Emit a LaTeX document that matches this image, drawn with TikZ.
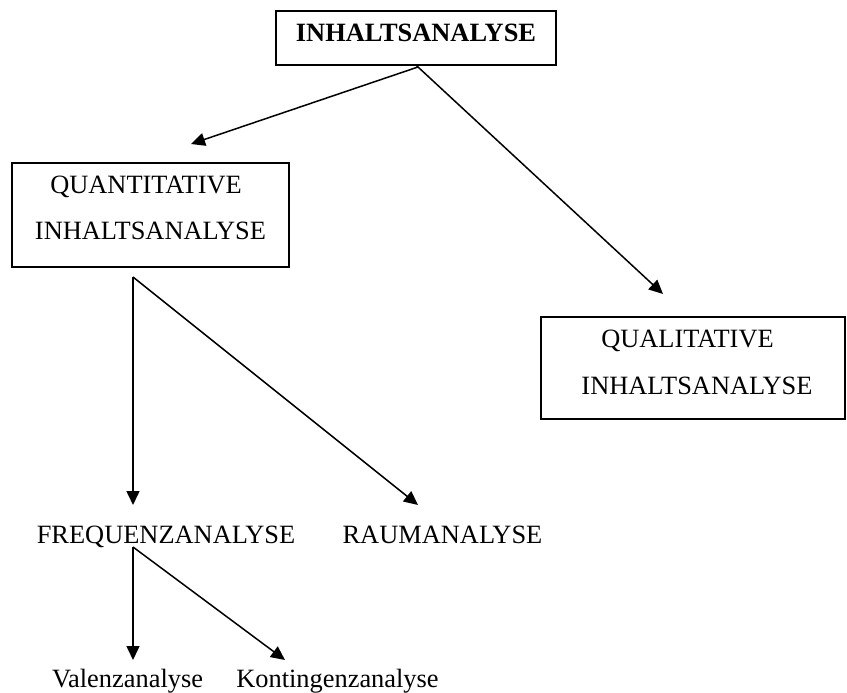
\documentclass[tikz,border=0pt]{standalone}
\usepackage{fontspec}
\setmainfont{Liberation Serif}
\usetikzlibrary{arrows.meta,calc}

\tikzset{
  box/.style={draw, line width=2.3pt, inner sep=0pt, outer sep=0pt, anchor=base},
  lbl/.style={inner sep=0pt, outer sep=0pt, anchor=base},
  arr/.style={line width=1.5pt, -{Triangle[length=14pt,width=13pt]}},
  ln/.style={line width=1.5pt}
}
\newcommand{\bigtext}{\fontsize{26.4}{47}\selectfont}
\newcommand{\twolines}[2]{\begin{tabular}[t]{@{}c@{}}#1\\#2\end{tabular}}

\begin{document}
\begin{tikzpicture}[x=1pt, y=-1pt, font=\bigtext]
  \useasboundingbox (0,0) rectangle (847,693);

  % boxes
  \node[box, minimum width=280pt, text height=31pt, text depth=23pt]
    (top) at (416,42) {\textbf{INHALTSANALYSE}};
  \node[box, minimum width=277pt, text height=30pt, text depth=74pt]
    (quant) at (150.5,193) {\twolines{QUANTITATIVE\hspace*{9pt}}{INHALTSANALYSE}};
  \node[box, minimum width=304pt, text height=30pt, text depth=72pt]
    (qual) at (693,347) {\twolines{QUALITATIVE\hspace*{11pt}}{\hspace*{8pt}INHALTSANALYSE}};

  % plain labels
  \node[lbl] (freq) at (166,543) {FREQUENZANALYSE};
  \node[lbl] (raum) at (442.5,543) {RAUMANALYSE};
  \node[lbl] (val)  at (127.5,687) {Valenzanalyse};
  \node[lbl] (kont) at (337.5,687) {Kontingenzanalyse};

  % connector end points
  \coordinate (top-out)   at ($(top.south)+(2,2)$);
  \coordinate (quant-in)  at ($(quant.north west)+(179,-19)$);
  \coordinate (qual-in)   at ($(qual.north west)+(122,-23)$);
  \coordinate (quant-out) at ($(quant.south west)+(121,10)$);
  \coordinate (freq-in)   at ($(freq.base)+(-33,-38)$);
  \coordinate (raum-in)   at ($(raum.base)+(-24.5,-38)$);
  \coordinate (freq-out)  at ($(freq.base)+(-33,4)$);
  \coordinate (val-in)    at ($(val.base)+(5.5,-27)$);
  \coordinate (kont-in)   at ($(kont.base)+(-52.5,-27)$);

  % connectors
  \draw[ln] (top.south) -- (top-out);
  \draw[arr] (top-out) -- (quant-in);
  \draw[arr] (top-out) -- (qual-in);
  \draw[arr] (quant-out) -- (freq-in);
  \draw[arr] (quant-out) -- (raum-in);
  \draw[arr] (freq-out) -- (val-in);
  \draw[arr] (freq-out) -- (kont-in);
\end{tikzpicture}
\end{document}
